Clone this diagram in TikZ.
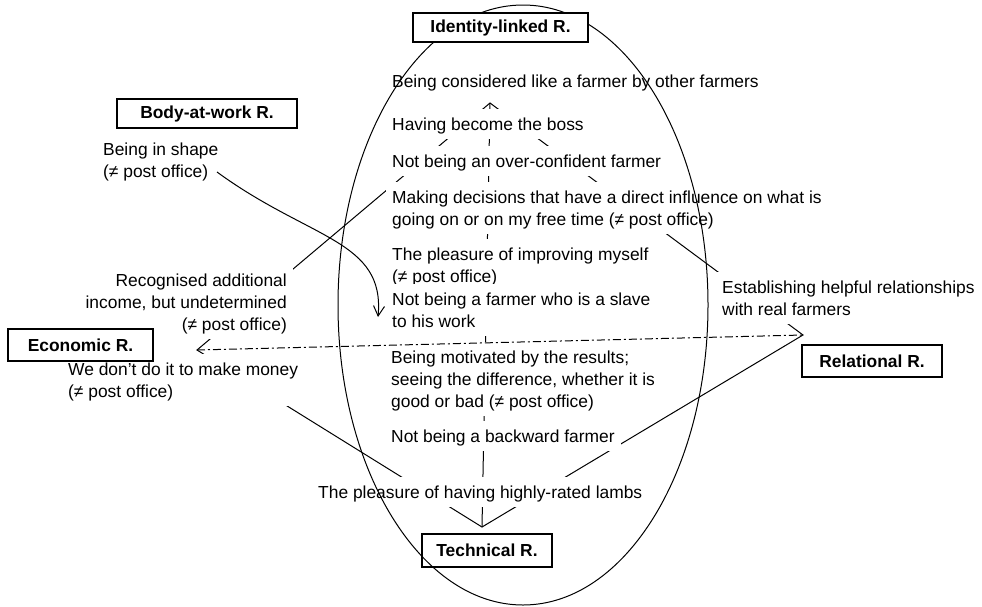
\documentclass[tikz,border=0pt]{standalone}
\usepackage{fontspec}
\setmainfont{Liberation Sans}
\usetikzlibrary{arrows.meta}
\pgfdeclarelayer{bg}
\pgfsetlayers{bg,main}
\newcommand\lnst{\rule[-4pt]{0pt}{20pt}}
\tikzset{
  txt/.style={fill=white, inner xsep=6pt, inner ysep=5pt, font=\fontsize{17.4pt}{22pt}\selectfont, text=black},
  txtl/.style={txt, align=left, anchor=north west},
  txtr/.style={txt, align=right, anchor=north east},
  rbox/.style={draw, line width=1.2pt, fill=white, font=\fontsize{17.4pt}{22pt}\selectfont\bfseries, inner sep=0pt},
  conn/.style={line width=1pt},
  dashdot/.style={line width=1pt, dash pattern=on 8pt off 3pt on 2pt off 3pt},
}
\begin{document}
\begin{tikzpicture}[x=1pt,y=-1pt]
\useasboundingbox (0,0) rectangle (982,606);
% hubs
\coordinate (I) at (490,103);
\coordinate (E) at (197,350);
\coordinate (R) at (803,335);
\coordinate (T) at (482,527);
\coordinate (cs) at (217,172);
\coordinate (ce) at (378,317);
% text items
\node[txtl] (t1) at (386,66) {\lnst Being considered like a farmer by other farmers};
\node[txtl] (t2) at (386,109) {\lnst Having become the boss};
\node[txtl] (t3) at (386,146) {\lnst Not being an over-confident farmer};
\node[txtl] (t4) at (386,182) {\lnst Making decisions that have a direct influence on what is\\\lnst going on or on my free time (≠ post office)};
\node[txtl] (t5) at (386,239) {\lnst The pleasure of improving myself\\\lnst (≠ post office)};
\node[txtl] (t6) at (386,284) {\lnst Not being a farmer who is a slave\\\lnst to his work};
\node[txtl] (t7) at (385,342) {\lnst Being motivated by the results;\\\lnst seeing the difference, whether it is\\\lnst good or bad (≠ post office)};
\node[txtl] (t8) at (385,421) {\lnst Not being a backward farmer};
\node[txtl] (t9) at (312,477) {\lnst The pleasure of having highly-rated lambs};
\node[txtl] (b1) at (97,134) {\lnst Being in shape\\\lnst (≠ post office)};
\node[txtr] (e1) at (293,265) {\lnst Recognised additional\\\lnst income, but undetermined\\\lnst (≠ post office)};
\node[txtl] (e2) at (62,354) {\lnst We don’t do it to make money\\\lnst (≠ post office)};
\node[txtl] (r1) at (716,272) {\lnst Establishing helpful relationships\\\lnst with real farmers};
% category boxes
\node[rbox, minimum width=180pt, minimum height=29pt] (body) at (207,113.5) {Body-at-work R.};
\node[rbox, minimum width=145pt, minimum height=32pt] (eco) at (80.5,345) {Economic R.};
\node[rbox, minimum width=140pt, minimum height=32pt] (rel) at (872,361) {Relational R.};
\node[rbox, minimum width=130pt, minimum height=33pt] (tec) at (487,550.5) {Technical R.};
% connectors behind the text boxes
\begin{pgfonlayer}{bg}
\draw[conn] (E) -- (I) -- (R) -- (T) -- cycle;
\draw[conn] (I) -- (T);
\end{pgfonlayer}
\draw[dashdot] (E) -- (R);
% ellipse
\draw[conn] (523,305) ellipse [x radius=185pt, y radius=300pt];
\node[rbox, minimum width=175pt, minimum height=29pt] (idr) at (500.5,27.5) {Identity-linked R.};
% curved arrow
\draw[conn, -{Straight Barb[length=10pt,width=11pt]}] (cs) .. controls (310,240) and (385,240) .. (ce);
\end{tikzpicture}
\end{document}
